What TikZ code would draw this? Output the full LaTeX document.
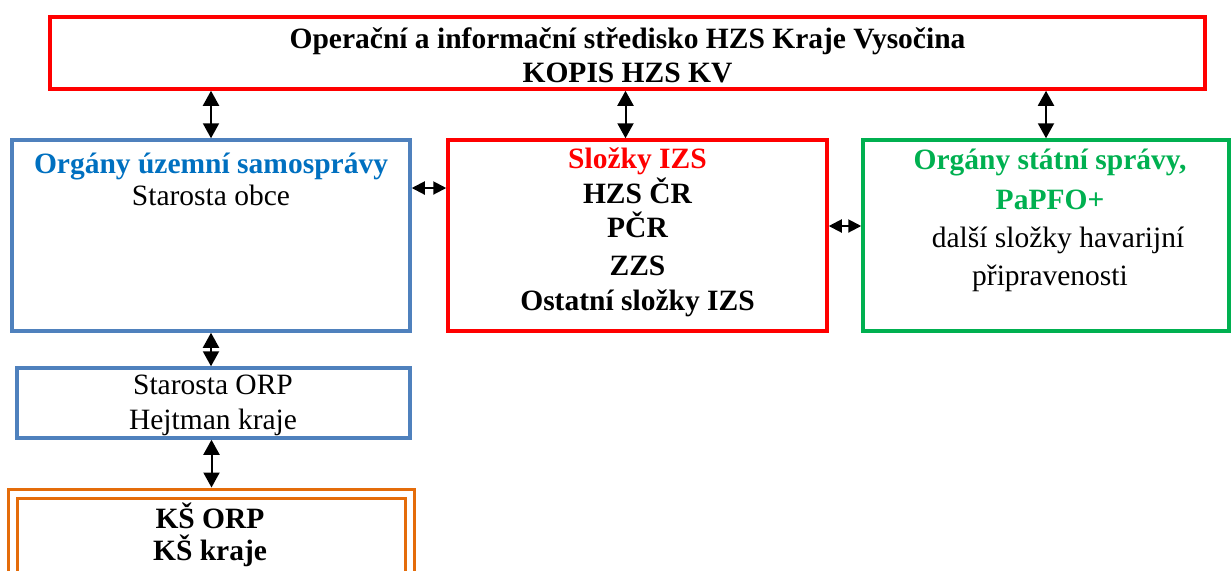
\documentclass[tikz,border=0pt]{standalone}
\usepackage{fontspec}
\setmainfont{Liberation Serif}
\usetikzlibrary{arrows.meta}

\definecolor{kopisred}{RGB}{255,0,0}
\definecolor{samoblue}{RGB}{79,129,189}
\definecolor{samotext}{RGB}{0,112,192}
\definecolor{statgreen}{RGB}{0,176,80}
\definecolor{ksorange}{RGB}{228,108,10}

\begin{document}
\fontsize{14.75}{17.5}\selectfont
\begin{tikzpicture}[x=0.5pt,y=-0.5pt]
    \useasboundingbox (0,0) rectangle (1231,570);
    \begin{scope}
        \tikzset{org box/.style={draw, rectangle, line width=1.75pt, inner sep=0pt},
                 link/.style={{Triangle[width=8pt,length=7.5pt]}-{Triangle[width=8pt,length=7.5pt]}, line width=1pt},
                 side link/.style={{Triangle[width=6.5pt,length=6.5pt]}-{Triangle[width=6.5pt,length=6.5pt]}, line width=1pt},
                 box text/.style={align=center, inner sep=0pt}}
        % Draw the boxes
        \node [org box, draw=kopisred, minimum width=577.5pt, minimum height=36pt] (kopis) at (627.5,53) {};
        \node [org box, draw=samoblue, minimum width=199pt, minimum height=95.5pt] (samosprava) at (211,235.5) {};
        \node [org box, draw=kopisred, minimum width=189.5pt, minimum height=95.5pt] (izs) at (637.5,235.5) {};
        \node [org box, draw=statgreen, minimum width=183pt, minimum height=95.5pt] (sprava) at (1046,235.5) {};
        \node [org box, draw=samoblue, minimum width=196.5pt, minimum height=35pt] (orp) at (213.5,403) {};
        \node [org box, draw=ksorange, line width=1.5pt, double, double distance=3pt, outer sep=3pt,
               minimum width=198.5pt, minimum height=48.25pt] (ks) at (211.5,541.75) {};

        % Label the boxes
        \node [box text] (kopistext) at (627.5,55) {\bfseries Operační a informační středisko HZS Kraje Vysočina\\[-0.5pt] \bfseries KOPIS HZS KV};
        \node [box text] (samospravatext) at (211,179) {\textcolor{samotext}{\bfseries Orgány územní samosprávy}\\[-1.5pt] Starosta obce};
        \node [box text] (izstext) at (637.5,232.5) {\textcolor{kopisred}{\bfseries Složky IZS}\\ \bfseries HZS ČR\\[-0.5pt] \bfseries PČR\\[1.5pt] \bfseries ZZS\\ \bfseries Ostatní složky IZS};
        \node [box text] (spravatext) at (1050,220.5) {\textcolor{statgreen}{\bfseries Orgány státní správy,}\\[2.5pt] \textcolor{statgreen}{\bfseries PaPFO+}\\[1.5pt] \hspace{8pt}další složky havarijní\\[1.5pt] připravenosti};
        \node [box text] (orptext) at (213,405) {Starosta ORP\\ Hejtman kraje};
        \node [box text] (kstext) at (210,535) {\bfseries KŠ ORP\\[-1.5pt] \bfseries KŠ kraje};

        % Connect the boxes
        \draw [link] (kopis.south -| samosprava.north) -- (samosprava.north);
        \draw [link] (kopis.south -| izs.north) ++(-6pt,0) -- ([xshift=-6pt]izs.north);
        \draw [link] (kopis.south -| sprava.north) -- (sprava.north);
        \draw [side link] ([yshift=23.75pt]samosprava.east) -- ([yshift=23.75pt]samosprava.east -| izs.west);
        \draw [side link] ([yshift=4.75pt]izs.east) -- ([yshift=4.75pt]izs.east -| sprava.west);
        \draw [link] (samosprava.south) -- (samosprava.south |- orp.north);
        \draw [link] (orp.south -| ks.north) -- (ks.north);
    \end{scope}
\end{tikzpicture}
\end{document}
